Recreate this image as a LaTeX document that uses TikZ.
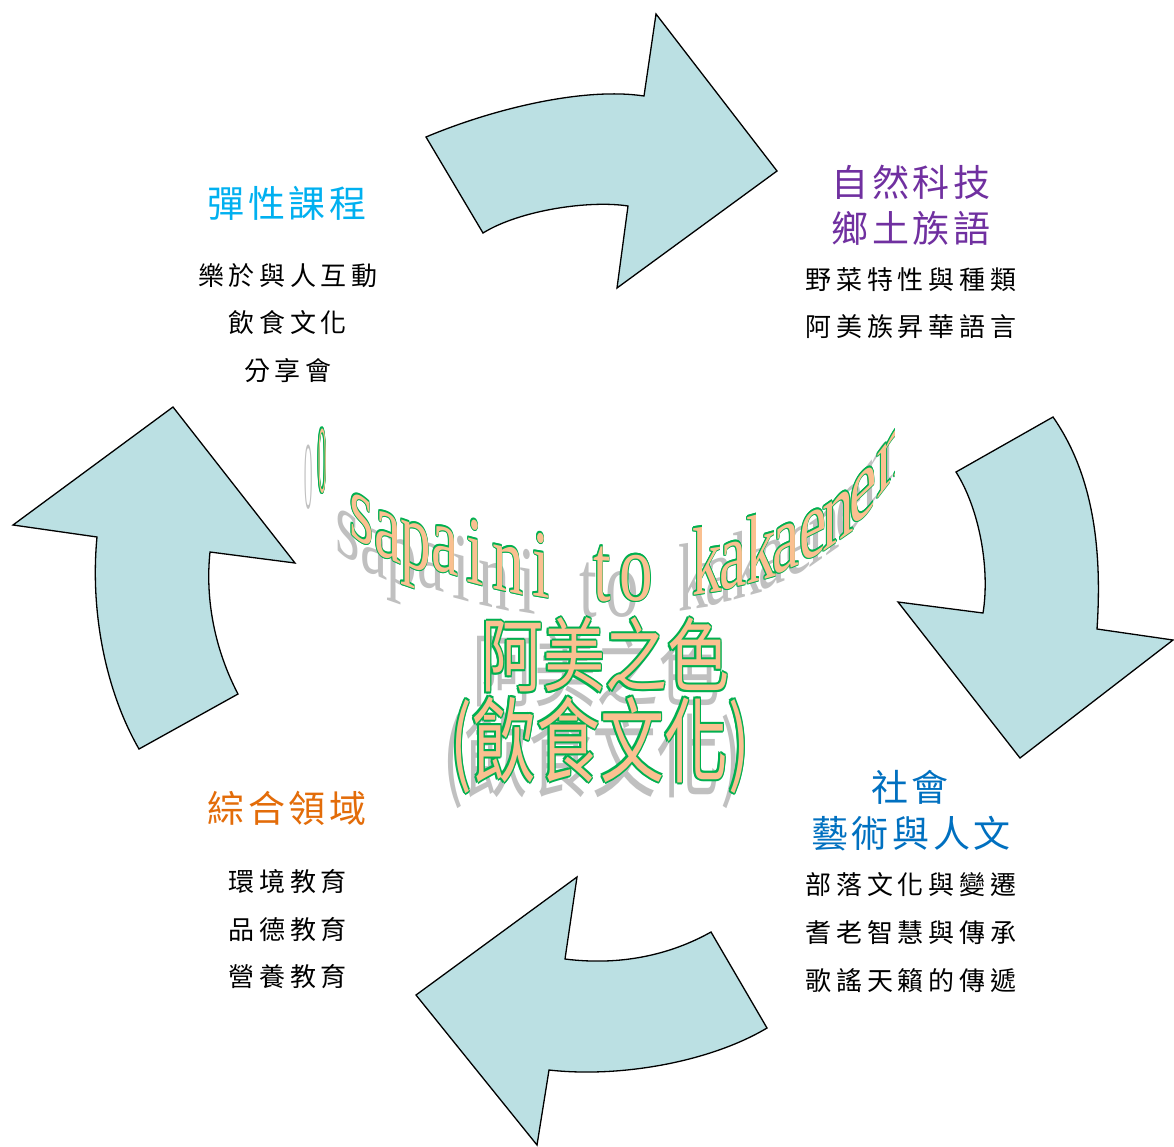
\documentclass[tikz,border=0pt]{standalone}
\usepackage{fontspec}
\setmainfont{Liberation Serif}
\newfontfamily\cjk{Noto Sans CJK TC}
\newfontfamily\cjkT[LetterSpace=10]{Noto Sans CJK TC}
\newfontfamily\cjkB[LetterSpace=18]{Noto Sans CJK TC}
\definecolor{arrowfill}{RGB}{187,224,227}
\definecolor{cyanT}{RGB}{0,176,240}
\definecolor{purpleT}{RGB}{112,48,160}
\definecolor{orangeT}{RGB}{227,108,9}
\definecolor{blueT}{RGB}{0,112,192}
\definecolor{wagreen}{RGB}{0,176,80}
\definecolor{wapeach}{RGB}{250,192,144}
\definecolor{shadowgray}{RGB}{192,192,192}
\newcommand\wOlc[3]{\rlap{\kern#1\raise#2\hbox{\color{wagreen}#3}}}
\newcommand\wOut[1]{\wOlc{1.5pt}{0pt}{#1}\wOlc{-1.5pt}{0pt}{#1}\wOlc{0pt}{1.5pt}{#1}\wOlc{0pt}{-1.5pt}{#1}\wOlc{1.06pt}{1.06pt}{#1}\wOlc{-1.06pt}{1.06pt}{#1}\wOlc{1.06pt}{-1.06pt}{#1}\wOlc{-1.06pt}{-1.06pt}{#1}\textcolor{wapeach}{#1}}
\begin{document}
\begin{tikzpicture}[x=1pt,y=-1pt,
  arr/.style={fill=arrowfill,draw=black,line width=1.3pt,line join=miter},
  ttl/.style={font=\cjkT\fontsize{37}{37}\selectfont,inner sep=0pt,anchor=center},
  bdy/.style={font=\cjkB\fontsize{26}{26}\selectfont,text=black,inner sep=0pt,anchor=center},
  wal/.style={font=\fontsize{96}{96}\selectfont,inner sep=0pt,outer sep=0pt,anchor=base west,transform shape},
  wac/.style={font=\cjk\fontsize{62}{62}\selectfont,inner sep=0pt,anchor=center,transform shape},
  wac2/.style={wac,font=\cjk\fontsize{64}{64}\selectfont}]
\useasboundingbox (0,0) rectangle (1174,1146);
\fill[white] (0,0) rectangle (1174,1146);

% arrows
\draw[arr] (426,137) .. controls (495,108) and (585,87) .. (644,96) -- (656,14) -- (777,171) -- (617,288) -- (628,206)
  .. controls (590,200) and (520,210) .. (483,233) -- cycle;
\draw[arr] (956,472) -- (1053,417) .. controls (1090,470) and (1103,540) .. (1097,629) -- (1173,640) -- (1020,758) -- (898,602) -- (983,613)
  .. controls (990,570) and (980,510) .. (956,472) -- cycle;
\draw[arr] (577,877) -- (565,959) .. controls (620,966) and (670,955) .. (711,932) -- (767,1028)
  .. controls (710,1062) and (620,1078) .. (549,1070) -- (537,1145) -- (416,995) -- cycle;
\draw[arr] (173,407) -- (295,563) -- (210,552) .. controls (205,600) and (215,650) .. (238,694) -- (139,749)
  .. controls (105,690) and (90,610) .. (97,537) -- (13,525) -- cycle;

% curved word art
\begin{scope}
\clip (290,400) rectangle (894,660);
\foreach \n/\x/\y/\s/\k/\c in {1/318/492/0/0.12/O,2/349/534/-0.6/0.66/s,3/374/552/-0.45/0.64/a,4/400/563/-0.35/0.64/p,
  5/431/568/-0.3/0.64/a,6/466/581/-0.27/0.66/i,7/492/588/-0.22/0.66/n,8/532/595/-0.17/0.66/i,9/593/600/-0.05/0.66/t,
  10/619/600/0/0.7/o,11/692/595/0.15/0.62/k,12/719/590/0.22/0.64/a,13/746/584/0.28/0.62/k,14/772/575/0.4/0.64/a,
  15/799/563/0.5/0.64/e,16/822/552/0.7/0.66/n,17/849/530/0.95/0.64/e,18/876/500/1.3/0.66/n}{
  \begin{scope}[shift={(\x-14,\y+16)}]
    \node[wal,yslant=\s,xscale=\k,text=shadowgray] (ws\n) at (0,0) {\c};
  \end{scope}}
\foreach \n/\x/\y/\s/\k/\c in {1/318/492/0/0.12/O,2/349/534/-0.6/0.66/s,3/374/552/-0.45/0.64/a,4/400/563/-0.35/0.64/p,
  5/431/568/-0.3/0.64/a,6/466/581/-0.27/0.66/i,7/492/588/-0.22/0.66/n,8/532/595/-0.17/0.66/i,9/593/600/-0.05/0.66/t,
  10/619/600/0/0.7/o,11/692/595/0.15/0.62/k,12/719/590/0.22/0.64/a,13/746/584/0.28/0.62/k,14/772/575/0.4/0.64/a,
  15/799/563/0.5/0.64/e,16/822/552/0.7/0.66/n,17/849/530/0.95/0.64/e,18/876/500/1.3/0.66/n}{
  \begin{scope}[shift={(\x,\y)}]
    \node[wal,yslant=\s,xscale=\k] (wl\n) at (0,0) {\wOut{\c}};
  \end{scope}}
\end{scope}

% chinese word art
\begin{scope}[shift={(596,670)}]
  \node[wac,yscale=1.3,text=shadowgray] (cs1) at (0,0) {阿美之色};
\end{scope}
\begin{scope}[shift={(592,760)}]
  \node[wac2,yscale=1.45,text=shadowgray] (cs2) at (0,0) {(飲食文化)};
\end{scope}
\begin{scope}[shift={(605,655)}]
  \node[wac,yscale=1.3] (cw1) at (0,0) {\wOut{阿美之色}};
\end{scope}
\begin{scope}[shift={(600,745)}]
  \node[wac2,yscale=1.45] (cw2) at (0,0) {\wOut{(飲食文化)}};
\end{scope}

% labels
\node[ttl,text=cyanT] (a0) at (287,203) {彈性課程};
\node[bdy] (a1) at (288,276) {樂於與人互動};
\node[bdy] (a2) at (288,323) {飲食文化};
\node[bdy] (a3) at (288,371) {分享會};

\node[ttl,text=purpleT] (b0) at (911,182) {自然科技};
\node[ttl,text=purpleT] (b1) at (911,228) {鄉土族語};
\node[bdy] (b2) at (911,280) {野菜特性與種類};
\node[bdy] (b3) at (911,327) {阿美族昇華語言};

\node[ttl,text=orangeT] (c0) at (287,808) {綜合領域};
\node[bdy] (c1) at (288,882) {環境教育};
\node[bdy] (c2) at (288,930) {品德教育};
\node[bdy] (c3) at (288,977) {營養教育};

\node[ttl,text=blueT] (d0) at (910,787) {社會};
\node[ttl,text=blueT] (d1) at (911,834) {藝術與人文};
\node[bdy] (d2) at (911,885) {部落文化與變遷};
\node[bdy] (d3) at (911,933) {耆老智慧與傳承};
\node[bdy] (d4) at (911,981) {歌謠天籟的傳遞};
\end{tikzpicture}
\end{document}
